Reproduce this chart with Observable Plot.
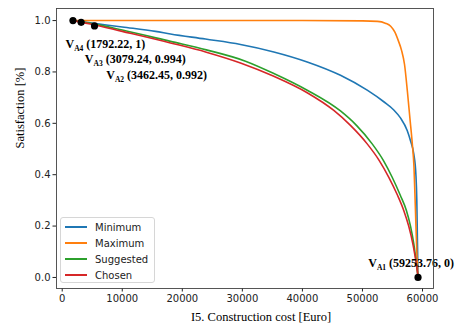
<!DOCTYPE html>
<html><head><meta charset="utf-8">
<script src="https://cdn.jsdelivr.net/npm/d3@7"></script>
<script src="https://cdn.jsdelivr.net/npm/@observablehq/plot@0.6"></script>
<style>
body{margin:0;background:#fff;overflow:hidden}
#wrap{position:relative;width:456px;height:327px}
#legend{position:absolute;left:60px;top:217px;width:95px;height:66px;box-sizing:border-box;border:1px solid #d6d6d6;border-radius:3px;background:rgba(255,255,255,0.85);font:10px "DejaVu Sans",sans-serif;color:#222;padding-top:1px}
.lrow{display:flex;align-items:center;height:16.1px}
.lsw{display:inline-block;width:22px;height:2px;margin-left:4px;margin-right:8px}
</style></head><body><div id="wrap"></div>
<script>
const seriesNames = ["Minimum", "Maximum", "Suggested", "Chosen"];
const seriesColors = ["#1f77b4", "#ff7f0e", "#2ca02c", "#d62728"];

const minimumCost = [1792, 4710, 10000, 15540, 18030, 23860, 29690, 35240, 40800, 46340, 50790, 53550, 55220, 56330, 57450, 58000, 58550, 58900, 59050, 59150, 59254];
const minimumSat  = [1.0, 0.991, 0.975, 0.958, 0.948, 0.928, 0.907, 0.878, 0.839, 0.787, 0.729, 0.684, 0.652, 0.621, 0.572, 0.532, 0.48, 0.40, 0.30, 0.15, 0];

const maximumCost = [1792, 20000, 40000, 50000, 52500, 53800, 54700, 55400, 56000, 56500, 57000, 57500, 57900, 58300, 58580, 58800, 59050, 59254];
const maximumSat  = [1.0, 1.0, 1.0, 0.999, 0.997, 0.99, 0.978, 0.955, 0.92, 0.885, 0.83, 0.72, 0.62, 0.52, 0.43, 0.28, 0.10, 0];

const suggestedCost = [1792, 4710, 10000, 18030, 24000, 30520, 35240, 40800, 46340, 49000, 51620, 53500, 54950, 56300, 57330, 58000, 58550, 59120, 59254];
const suggestedSat  = [1.0, 0.989, 0.963, 0.919, 0.886, 0.842, 0.794, 0.729, 0.648, 0.592, 0.52, 0.455, 0.39, 0.32, 0.26, 0.2, 0.131, 0.027, 0];

const chosenCost = [1792, 4710, 10000, 18030, 24000, 29690, 35240, 40800, 45230, 48000, 50790, 52800, 54390, 55800, 56890, 57700, 58390, 59120, 59254];
const chosenSat  = [1.0, 0.987, 0.958, 0.913, 0.877, 0.835, 0.783, 0.719, 0.65, 0.592, 0.52, 0.455, 0.39, 0.322, 0.26, 0.2, 0.131, 0.027, 0];

const annotationNames  = ["A4", "A3", "A2", "A1"];
const annotationLabels = ["1792.22, 1", "3079.24, 0.994", "3462.45, 0.992", "59253.76, 0"];
const annotationCost   = [1792, 3150, 5380, 59254];
const annotationSat    = [1.0, 0.993, 0.979, 0];
const labelCost        = [550, 3764, 7327, 50957];
const labelSat         = [0.895, 0.833, 0.774, 0.040];

const xTicks = [0, 10000, 20000, 30000, 40000, 50000, 60000];
const yTicks = [0, 0.2, 0.4, 0.6, 0.8, 1.0];
const xLabel = "I5. Construction cost [Euro]";
const yLabel = "Satisfaction [%]";

const seriesCost = [minimumCost, maximumCost, suggestedCost, chosenCost];
const seriesSat = [minimumSat, maximumSat, suggestedSat, chosenSat];
const rows = seriesNames.flatMap((name, i) => seriesCost[i].map((c, j) => ({series: name, cost: c, sat: seriesSat[i][j]})));
const anns = annotationNames.map((n, i) => ({name: n, label: annotationLabels[i], cost: annotationCost[i], sat: annotationSat[i], lx: labelCost[i], ly: labelSat[i]}));

const serif = "'Liberation Serif', 'Times New Roman', serif";

const chart = Plot.plot({
  width: 456, height: 327,
  marginLeft: 56, marginRight: 23, marginTop: 8, marginBottom: 39,
  style: {fontFamily: "'DejaVu Sans', sans-serif", fontSize: "10px", color: "#222", background: "#fff"},
  x: {domain: [-950, 61830], ticks: xTicks, tickFormat: d => String(d), tickSize: 3.5, tickPadding: 3, label: null},
  y: {domain: [-0.043, 1.047], ticks: yTicks, tickFormat: d3.format(".1f"), tickSize: 3.5, tickPadding: 2.5, label: null},
  color: {domain: seriesNames, range: seriesColors},
  marks: [
    Plot.line(rows, {x: "cost", y: "sat", z: "series", stroke: "series", strokeWidth: 1.6, curve: "monotone-x"}),
    Plot.dot(anns, {x: "cost", y: "sat", r: 3.6, fill: "black", stroke: "none"}),
    Plot.text(anns, {x: "lx", y: "ly", text: d => `V${d.name} (${d.label})`, textAnchor: "start", lineAnchor: "bottom", fontFamily: serif, fontWeight: "bold", fontSize: 12, fill: "black"}),
    Plot.text([xLabel], {text: d => d, frameAnchor: "bottom", dx: 16, dy: 28, lineAnchor: "middle", fontFamily: serif, fontSize: 12.5, fill: "black"}),
    Plot.text([yLabel], {text: d => d, frameAnchor: "left", dx: -37, rotate: -90, lineAnchor: "middle", fontFamily: serif, fontSize: 12.5, fill: "black"}),
    Plot.frame({stroke: "#444", strokeWidth: 0.9})
  ]
});

// subscripts for annotation labels
d3.select(chart).selectAll("text").each(function() {
  const t = this.textContent;
  const m = /^V(A\d) \((.*)\)$/.exec(t);
  if (!m) return;
  const sel = d3.select(this);
  sel.text("V");
  sel.append("tspan").attr("font-size", 7.5).attr("dy", 3).text(m[1]);
  sel.append("tspan").attr("dy", -3).text(` (${m[2]})`);
});

const wrap = document.getElementById("wrap");
wrap.appendChild(chart);
const legend = document.createElement("div");
legend.id = "legend";
seriesNames.forEach((n, i) => {
  const r = document.createElement("div");
  r.className = "lrow";
  const s = document.createElement("span");
  s.className = "lsw";
  s.style.backgroundColor = seriesColors[i];
  const l = document.createElement("span");
  l.textContent = n;
  r.appendChild(s); r.appendChild(l);
  legend.appendChild(r);
});
wrap.appendChild(legend);
</script>
</body></html>
